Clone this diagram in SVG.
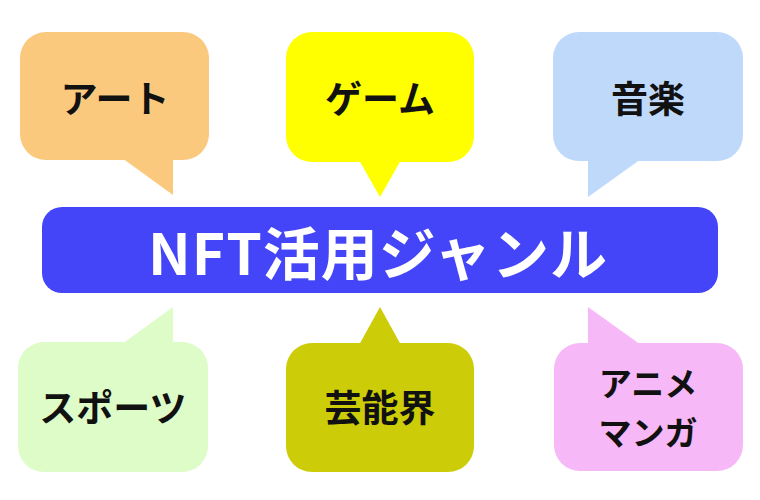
<svg xmlns="http://www.w3.org/2000/svg" width="760" height="500" viewBox="0 0 760 500">
<style>
text{font-family:"Noto Sans CJK JP","Noto Sans",sans-serif;font-weight:bold;text-anchor:middle;dominant-baseline:central}
.lbl{font-size:37px;fill:#111}
.title{font-size:57px;fill:#ffffff;letter-spacing:1px}
</style>
<rect width="760" height="500" fill="#ffffff"/>
<g id="connectors"></g>
<g id="art">
<rect x="20" y="32" width="189" height="128" rx="26" fill="#FBC97E"/>
<polygon points="122,158 173,195 173,158" fill="#FBC97E"/>
<text class="lbl" x="115" y="97">アート</text>
</g>
<g id="game">
<rect x="286" y="32" width="188" height="130" rx="26" fill="#FFFF00"/>
<polygon points="359,160 380,197 401,160" fill="#FFFF00"/>
<text class="lbl" x="380" y="97">ゲーム</text>
</g>
<g id="music">
<rect x="553" y="32" width="190" height="129" rx="26" fill="#BFD9FB"/>
<polygon points="588,159 588,197 641,159" fill="#BFD9FB"/>
<text class="lbl" x="648" y="97">音楽</text>
</g>
<g id="center">
<rect x="42" y="207" width="676" height="86" rx="20" fill="#4444F8"/>
<text class="title" x="378" y="250">NFT活用ジャンル</text>
</g>
<g id="sports">
<rect x="18" y="342" width="190" height="130" rx="26" fill="#DDFCC8"/>
<polygon points="122,344 173,307 173,344" fill="#DDFCC8"/>
<text class="lbl" x="113" y="406">スポーツ</text>
</g>
<g id="geinokai">
<rect x="286" y="343" width="188" height="129" rx="26" fill="#CCCC08"/>
<polygon points="359,345 380,307 401,345" fill="#CCCC08"/>
<text class="lbl" x="380" y="406">芸能界</text>
</g>
<g id="anime">
<rect x="554" y="343" width="189" height="128" rx="26" fill="#F6B8F6"/>
<polygon points="588,345 588,307 641,345" fill="#F6B8F6"/>
<text class="lbl" style="font-size:33px"><tspan x="648" y="382">アニメ</tspan><tspan x="648" y="431">マンガ</tspan></text>
</g>
</svg>
